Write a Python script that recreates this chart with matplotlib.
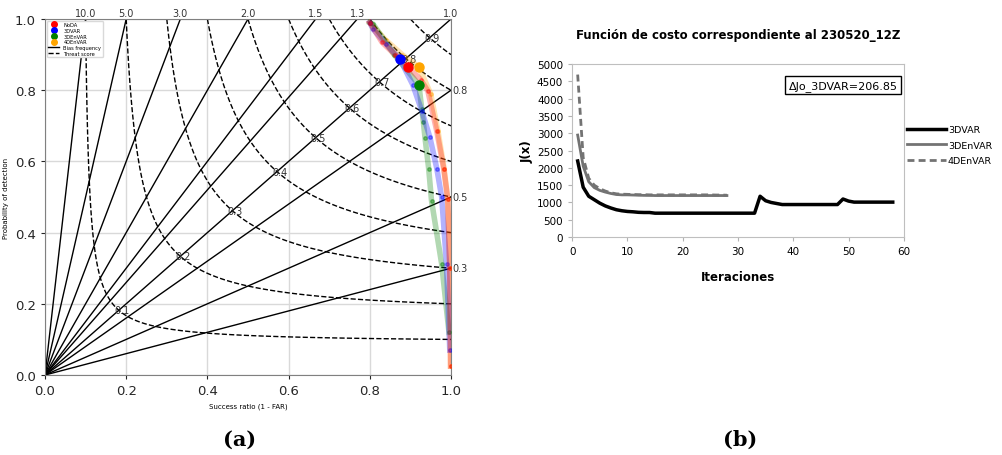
import numpy as np
import matplotlib
matplotlib.use("Agg")
import matplotlib.pyplot as plt
from matplotlib.lines import Line2D

# ================================================================================
# (a) performance diagram values (success ratio, probability of detection)
bias_levels=[0.3,0.5,0.8,1.0,1.3,1.5,2.0,3.0,5.0,10.0]
csi_levels=[0.1,0.2,0.3,0.4,0.5,0.6,0.7,0.8,0.9]

noda_sr=[0.800,0.830,0.862,0.894,0.925,0.943,0.965,0.982,0.992,0.997,0.999]
noda_pod=[0.990,0.935,0.900,0.866,0.830,0.798,0.685,0.580,0.494,0.300,0.025]

var3d_sr=[0.800,0.808,0.840,0.874,0.906,0.928,0.948,0.965,0.977,0.989,0.997]
var3d_pod=[0.990,0.972,0.930,0.888,0.815,0.742,0.668,0.580,0.500,0.312,0.070]

envar3d_sr=[0.800,0.808,0.860,0.921,0.928,0.932,0.936,0.945,0.952,0.977,0.995]
envar3d_pod=[0.990,0.986,0.900,0.815,0.747,0.710,0.666,0.580,0.490,0.312,0.120]

envar4d_sr=[0.800,0.840,0.880,0.921,0.950,0.968,0.983,0.992,0.997,0.999]
envar4d_pod=[0.990,0.940,0.900,0.865,0.790,0.685,0.580,0.494,0.300,0.025]

highlight_idx=3

# ================================================================================
# (b) cost function per iteration
it_3dvar=list(range(1,59))
j_3dvar=[2200,1440,1180,1080,980,900,840,790,760,740,
         730,715,710,710,690,690,690,690,690,690,
         690,690,690,690,690,690,690,690,690,690,
         690,690,690,1180,1050,1000,970,940,940,940,
         940,940,940,940,940,940,940,940,1100,1040,
         1010,1010,1010,1010,1010,1010,1010,1010]

it_3denvar=list(range(1,29))
j_3denvar=[2950,2050,1600,1430,1350,1300,1260,1230,1220,1220,
           1215,1210,1205,1205,1200,1200,1200,1200,1200,1200,
           1200,1200,1200,1200,1200,1200,1200,1200]

it_4denvar=list(range(1,29))
j_4denvar=[4700,2300,1700,1500,1400,1330,1280,1250,1240,1235,
           1230,1225,1225,1220,1220,1220,1220,1220,1220,1220,
           1220,1220,1220,1220,1220,1215,1215,1210]

# ================================================================================
fig=plt.figure(figsize=(10.02,4.56),dpi=100)

# ================================================================================
ax1=fig.add_axes([0.0449,0.1754,0.4052,0.7807])

for b in bias_levels:
  if b>=1:
    ax1.plot([0,1.0/b],[0,1],color="k",lw=1,zorder=2)
    ax1.text(1.0/b,1.002,"%.1f"%b,ha="center",va="bottom",fontsize=7,color="0.2")
  else:
    ax1.plot([0,1],[0,b],color="k",lw=1,zorder=2)
    ax1.text(1.004,b,"%.1f"%b,ha="left",va="center",fontsize=7,color="0.2")

sr=np.linspace(0.001,1,400)
pod=np.linspace(0.001,1,400)
SR,POD=np.meshgrid(sr,pod)
CSI=1.0/(1.0/SR+1.0/POD-1.0)
ax1.contour(SR,POD,CSI,levels=csi_levels,colors="k",linestyles="dashed",linewidths=1,zorder=2)
for c in csi_levels:
  d=2*c/(1+c)
  ax1.text(d-0.012,d,"%.1f"%c,ha="left",va="center",fontsize=7,color="0.2",zorder=3)

series=[(noda_sr,noda_pod,"red","NoDA"),
        (var3d_sr,var3d_pod,"blue","3DVAR"),
        (envar3d_sr,envar3d_pod,"green","3DEnVAR"),
        (envar4d_sr,envar4d_pod,"orange","4DEnVAR")]
for s_sr,s_pod,col,name in series[::-1]:
  ax1.plot(s_sr,s_pod,color=col,lw=4,alpha=0.3,zorder=4)
  ax1.plot(s_sr,s_pod,"o",color=col,ms=2.5,alpha=0.4,zorder=4)
for s_sr,s_pod,col,name in series:
  ax1.plot(s_sr[highlight_idx],s_pod[highlight_idx],"o",color=col,ms=6.5,zorder=6)

ax1.set_xlim(0,1)
ax1.set_ylim(0,1)
ax1.set_xticks(np.arange(0,1.01,0.2))
ax1.set_yticks(np.arange(0,1.01,0.2))
ax1.tick_params(labelsize=9.5,colors="0.15",length=3)
ax1.grid(True,color="0.85",lw=1,zorder=0)
for sp in ax1.spines.values():
  sp.set_color("0.5")
ax1.set_xlabel("Success ratio (1 - FAR)",fontsize=5)
ax1.set_ylabel("Probability of detection",fontsize=5)

handles=[Line2D([],[],marker="o",ls="",color=c,ms=4) for c in ["red","blue","green","orange"]]
handles+=[Line2D([],[],color="k",lw=1),Line2D([],[],color="k",lw=1,ls="--")]
ax1.legend(handles,["NoDA","3DVAR","3DEnVAR","4DEnVAR","Bias frequency","Threat score"],
           loc="upper left",fontsize=3.7,frameon=True,framealpha=1,edgecolor="0.85",
           handlelength=2.2,borderpad=0.3,labelspacing=0.15,borderaxespad=0.3)

# ================================================================================
ax2=fig.add_axes([0.571,0.478,0.331,0.379])

ax2.plot(it_3dvar,j_3dvar,color="k",lw=2.5,label="3DVAR")
ax2.plot(it_3denvar,j_3denvar,color="0.45",lw=2,label="3DEnVAR")
ax2.plot(it_4denvar,j_4denvar,color="0.45",lw=2,ls=(0,(2.5,1.5)),label="4DEnVAR")

ax2.set_xlim(0,60)
ax2.set_ylim(0,5000)
ax2.set_xticks(np.arange(0,61,10))
ax2.set_yticks(np.arange(0,5001,500))
ax2.tick_params(labelsize=7.5,colors="0.7",labelcolor="k",length=3,direction="out")
for sp in ax2.spines.values():
  sp.set_color("0.75")
ax2.set_title("Función de costo correspondiente al 230520_12Z",fontsize=8.5,fontweight="bold",pad=19)
ax2.set_xlabel("Iteraciones",fontsize=8.5,fontweight="bold",labelpad=10)
ax2.set_ylabel("J(x)",fontsize=8.5,fontweight="bold",labelpad=2)
ax2.text(0.817,0.879,"ΔJo_3DVAR=206.85",transform=ax2.transAxes,ha="center",va="center",
         fontsize=8,bbox=dict(boxstyle="square,pad=0.3",fc="white",ec="k",lw=1))
ax2.legend(loc="upper left",bbox_to_anchor=(1.0,0.665),frameon=False,handlelength=4.2,
           fontsize=6.8,labelspacing=0.7,handletextpad=0.15,borderaxespad=0.1,borderpad=0.2)

# ================================================================================
fig.text(0.2395,0.035,"(a)",ha="center",va="center",fontsize=15,fontweight="bold",family="DejaVu Serif")
fig.text(0.7385,0.035,"(b)",ha="center",va="center",fontsize=15,fontweight="bold",family="DejaVu Serif")

fig.savefig("out.png",dpi=100)
